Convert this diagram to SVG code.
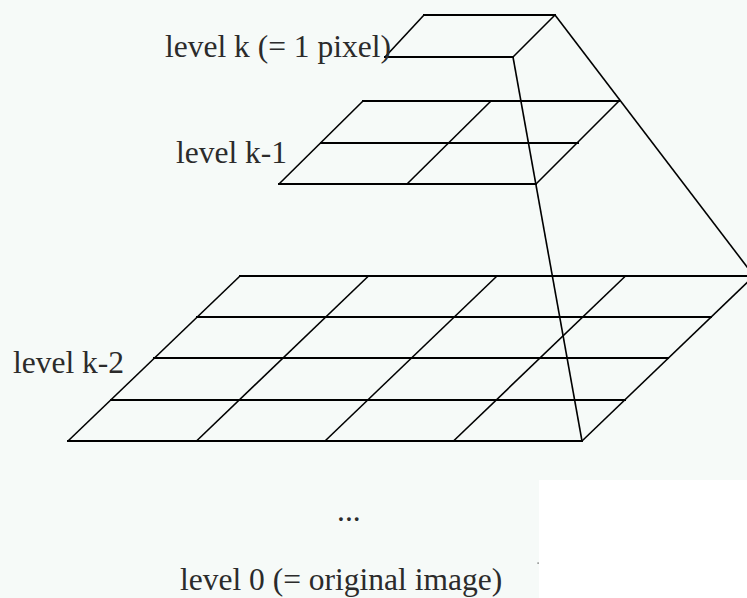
<svg xmlns="http://www.w3.org/2000/svg" width="747" height="598" viewBox="0 0 747 598">
<style>
.bg{fill:#f6faf8}
.ln{stroke:#000;stroke-width:2;fill:none;stroke-linecap:square}
.dg{stroke:#000;stroke-width:1.6;fill:none}
.lbl{font-family:"Liberation Serif","Times New Roman",serif;font-size:31.5px;fill:#2b2b2b}
</style>
<rect class="bg" x="0" y="0" width="747" height="598"/>
<rect x="539" y="480" width="208" height="118" fill="#ffffff"/>
<rect x="537.5" y="562.5" width="1.2" height="1.2" fill="#444"/>
<g id="level-k">
<line class="ln" x1="424" y1="15" x2="555" y2="15"/>
<line class="ln" x1="385" y1="57" x2="513" y2="57"/>
<line class="dg" x1="385" y1="57" x2="424" y2="15"/>
<line class="dg" x1="513" y1="57" x2="555" y2="15"/>
<text class="lbl" x="165" y="57">level k (= 1 pixel)</text>
</g>
<g id="level-k-1">
<line class="ln" x1="363" y1="101" x2="619" y2="101"/>
<line class="ln" x1="321" y1="143" x2="578" y2="143"/>
<line class="ln" x1="279" y1="184" x2="536" y2="184"/>
<line class="dg" x1="363" y1="101" x2="279" y2="184"/>
<line class="dg" x1="491" y1="101" x2="407" y2="184"/>
<line class="dg" x1="619" y1="101" x2="536" y2="184"/>
<text class="lbl" x="176" y="163">level k-1</text>
</g>
<g id="level-k-2">
<line class="ln" x1="240" y1="276" x2="754" y2="276"/>
<line class="ln" x1="197" y1="317" x2="711" y2="317"/>
<line class="ln" x1="154" y1="358" x2="668" y2="358"/>
<line class="ln" x1="111" y1="400" x2="625" y2="400"/>
<line class="ln" x1="68" y1="441" x2="582" y2="441"/>
<line class="dg" x1="240" y1="276" x2="68" y2="441"/>
<line class="dg" x1="368.5" y1="276" x2="196.5" y2="441"/>
<line class="dg" x1="497" y1="276" x2="325" y2="441"/>
<line class="dg" x1="625.5" y1="276" x2="453.5" y2="441"/>
<line class="dg" x1="754" y1="276" x2="582" y2="441"/>
<text class="lbl" x="13" y="373">level k-2</text>
</g>
<g id="level-0">
<text class="lbl" x="337" y="521">...</text>
<text class="lbl" x="180" y="590">level 0 (= original image)</text>
</g>
<g id="connectors">
<line class="dg" x1="555" y1="15" x2="754" y2="276"/>
<line class="dg" x1="513" y1="57" x2="582" y2="441"/>
</g>
</svg>
